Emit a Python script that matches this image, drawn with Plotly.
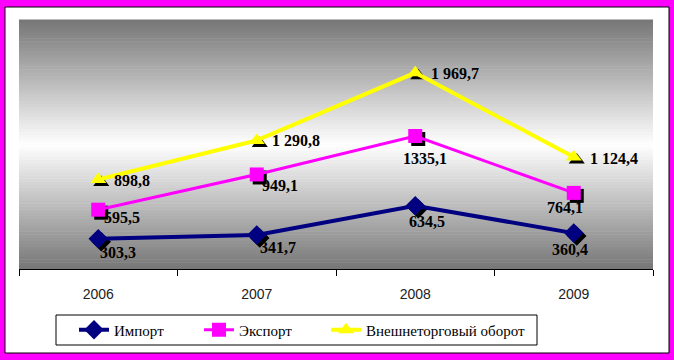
import plotly.graph_objects as go

years = ["2006", "2007", "2008", "2009"]
import_vals = [303.3, 341.7, 634.5, 360.4]
export_vals = [595.5, 949.1, 1335.1, 764.1]
trade_vals = [898.8, 1290.8, 1969.7, 1124.4]
import_labels = ["303,3", "341,7", "634,5", "360,4"]
export_labels = ["595,5", "949,1", "1335,1", "764,1"]
trade_labels = ["898,8", "1 290,8", "1 969,7", "1 124,4"]
series_names = ["Импорт", "Экспорт", "Внешнеторговый оборот"]

W, H = 674, 360
ML, MR, MT, MB = 19, 21, 20, 91
PW, PH = W - ML - MR, H - MT - MB
YMAX = 2500
SH = 3  # shadow offset px

def px_x(p):
    return (p - ML) / PW

def px_y(p):
    return (H - MB - p) / PH

colors = ["#000080", "#FF00FF", "#FFFF00"]
symbols = ["diamond", "square", "triangle-up"]
lwidths = [4, 3, 4]
msizes = [15, 14, 14]
series = [import_vals, export_vals, trade_vals]
labels = [import_labels, export_labels, trade_labels]
legend_ids = ["legend", "legend2", "legend3"]
legend_px = [74, 199, 326]

fig = go.Figure()

# shadows (base axes, shifted ranges)
for vals, sym, ms in zip(series, symbols, msizes):
    fig.add_trace(go.Scatter(x=years, y=vals, mode="markers", xaxis="x", yaxis="y",
                             marker=dict(symbol=sym, size=ms, color="black", line=dict(width=0)),
                             showlegend=False, hoverinfo="skip"))

for name, vals, col, sym, lw, ms, lg in zip(series_names, series, colors, symbols, lwidths, msizes, legend_ids):
    fig.add_trace(go.Scatter(x=years, y=vals, name=name, mode="lines+markers", xaxis="x2", yaxis="y2",
                             line=dict(color=col, width=lw), legend=lg,
                             marker=dict(symbol=sym, size=ms, color=col, line=dict(width=0))))

shapes = []
shapes.append(dict(type="rect", xref="paper", yref="paper", layer="below",
                   x0=px_x(5), x1=px_x(669), y0=px_y(353), y1=px_y(7),
                   fillcolor="white", line=dict(color="black", width=1)))
N = 80
for i in range(N):
    t = (i + 0.5) / N
    d = abs(t - 0.5) / 0.5
    v = int(round(255 - 137 * d))
    shapes.append(dict(type="rect", xref="paper", yref="paper", layer="below",
                       x0=0, x1=1, y0=i / N, y1=(i + 1) / N + 0.002,
                       fillcolor=f"rgb({v},{v},{v})", line=dict(width=0)))
shapes.append(dict(type="rect", xref="paper", yref="paper", layer="below",
                   x0=px_x(56), x1=px_x(537), y0=px_y(345), y1=px_y(315),
                   fillcolor="white", line=dict(color="black", width=1)))

offsets = [
    [(20, -14, "center"), (21, -13, "center"), (12, -16, "center"), (-4, -16, "center")],
    [(24, -8, "center"), (23, -11, "center"), (10, -22, "center"), (-9, -15, "center")],
    [(14, -1, "left"), (13, 0, "left"), (14, -1, "left"), (14, -1, "left")],
]
annotations = []
for vals, labs, offs in zip(series, labels, offsets):
    for i, (v, lab, (dx, dy, xa)) in enumerate(zip(vals, labs, offs)):
        annotations.append(dict(x=i, y=v, xref="x2", yref="y2", text="<b>" + lab + "</b>", showarrow=False,
                                xshift=dx, yshift=dy, xanchor=xa, yanchor="middle",
                                font=dict(family="Liberation Serif", size=16, color="black")))

dx_cat = SH / (PW / 4)
dy_val = SH * YMAX / PH

leg_common = dict(orientation="h", xanchor="left", yanchor="middle", y=px_y(330),
                  bgcolor="rgba(0,0,0,0)", borderwidth=0,
                  font=dict(family="Liberation Serif", size=15, color="black"))

fig.update_layout(
    width=W, height=H,
    margin=dict(l=ML, r=MR, t=MT, b=MB, autoexpand=False),
    paper_bgcolor="#FF00FF",
    plot_bgcolor="rgba(0,0,0,0)",
    shapes=shapes,
    annotations=annotations,
    showlegend=True,
    legend=dict(x=px_x(legend_px[0]), **leg_common),
    legend2=dict(x=px_x(legend_px[1]), **leg_common),
    legend3=dict(x=px_x(legend_px[2]), **leg_common),
    xaxis=dict(type="category", range=[-0.5 - dx_cat, 3.5 - dx_cat], visible=False),
    yaxis=dict(range=[0 + dy_val, YMAX + dy_val], visible=False),
    xaxis2=dict(type="category", overlaying="x", side="bottom", range=[-0.5, 3.5],
                showline=True, linecolor="black", linewidth=1, ticks="outside", tickson="boundaries",
                ticklen=6, tickcolor="black", showgrid=False, zeroline=False,
                tickfont=dict(family="Liberation Sans", size=14, color="#222222"), ticklabelstandoff=12),
    yaxis2=dict(overlaying="y", range=[0, YMAX], visible=True, showgrid=False, zeroline=False,
                showticklabels=False, ticks="", showline=False),
)

fig.write_html("out.html", config={"displayModeBar": False},
               post_script="document.body.style.margin='0';")
